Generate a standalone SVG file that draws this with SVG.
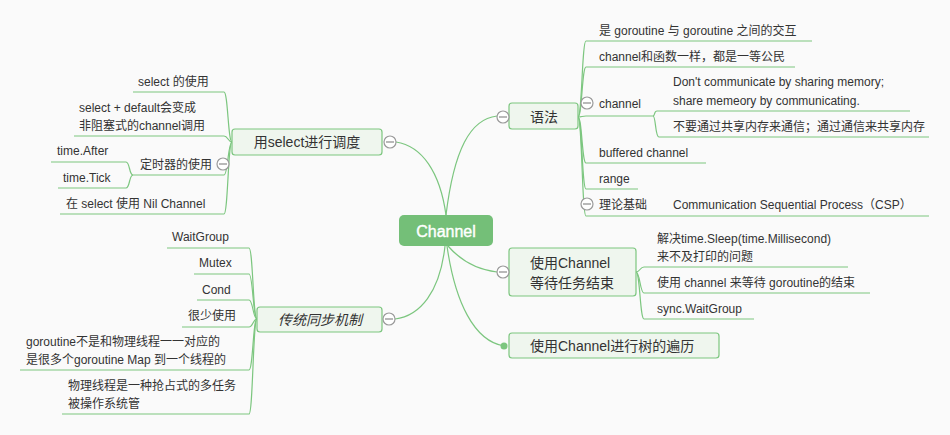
<svg xmlns="http://www.w3.org/2000/svg" width="950" height="435" viewBox="0 0 950 435">
<style>
text{font-family:"Liberation Sans","Noto Sans CJK SC",sans-serif;fill:#333;}
.leaf{font-size:12px;}
.topic{font-size:14px;}
.ln{fill:none;stroke:#7cc67f;stroke-width:1.2;}
.box{fill:#eff6ee;stroke:#7cc67f;stroke-width:1.2;}
.col circle{fill:#fff;stroke:#9a9a9a;stroke-width:1.2;}
.col line{stroke:#8a8a8a;stroke-width:1.2;}
</style>
<rect width="950" height="435" fill="#fafafa"/>
<g id="connectors">
<!-- main branches -->
<path class="ln" d="M446,215 C440,172 422,146 396,142"/>
<path class="ln" d="M446,215 C454,150 470,119 497,116"/>
<path class="ln" d="M445,246 C440,292 420,316 395,319"/>
<path class="ln" d="M448,246 C462,262 480,270 497,272"/>
<path class="ln" d="M447,246 C455,302 474,341 504,346"/>
<!-- 语法 children -->
<path class="ln" d="M578,117 C582,117 582,41 586,41 L812,41"/>
<path class="ln" d="M578,117 C582,117 582,67 586,67 L795,67"/>
<path class="ln" d="M578,117 C582,117 582,116 586,116 L653,116"/>
<path class="ln" d="M578,117 C582,117 582,163 586,163 L706,163"/>
<path class="ln" d="M578,117 C582,117 582,189 586,189 L638,189"/>
<path class="ln" d="M578,117 C582,117 582,216 586,216 L929,216"/>
<path class="ln" d="M653,116 C655,116 654,111 657,111 L910,111"/>
<path class="ln" d="M653,116 C656,116 655,137 659,137 L929,137"/>
<!-- 用select children -->
<path class="ln" d="M232,142 C228,142 228,92 224,92 L133,92"/>
<path class="ln" d="M232,142 C228,142 228,136 224,136 L74,136"/>
<path class="ln" d="M232,142 C228,142 228,175 224,175 L133,175"/>
<path class="ln" d="M232,142 C228,142 228,214 224,214 L60,214"/>
<path class="ln" d="M133,175 C129,175 130,162 126,162 L51,162"/>
<path class="ln" d="M133,175 C129,175 130,188 126,188 L58,188"/>
<!-- 传统同步机制 children -->
<path class="ln" d="M257,319 C253,319 253,248 249,248 L167,248"/>
<path class="ln" d="M257,319 C253,319 253,274 249,274 L194,274"/>
<path class="ln" d="M257,319 C253,319 253,300 249,300 L197,300"/>
<path class="ln" d="M257,319 C253,319 253,327 249,327 L182,327"/>
<path class="ln" d="M257,319 C253,319 253,370 249,370 L20,370"/>
<path class="ln" d="M257,319 C253,319 253,414 249,414 L62,414"/>
<!-- 使用Channel等待任务结束 children -->
<path class="ln" d="M636,272 C640,272 640,267 644,267 L848,267"/>
<path class="ln" d="M636,272 C640,272 640,293 644,293 L870,293"/>
<path class="ln" d="M636,272 C640,272 640,319 644,319 L754,319"/>
<circle cx="504" cy="346" r="3.5" fill="#7cc67f"/>
</g>
<g id="channel">
<rect x="399" y="215" width="94" height="31" rx="5" fill="#74bf78"/>
<text x="446" y="237" text-anchor="middle" style="font-size:16px;fill:#fff;stroke:#fff;stroke-width:0.4">Channel</text>
</g>
<g id="yufa">
<rect class="box" x="509" y="103" width="69" height="26" rx="3"/>
<text class="topic" x="544" y="122" text-anchor="middle">语法</text>
<g class="col"><circle cx="503" cy="117" r="6"/><line x1="499" y1="117" x2="507" y2="117"/></g>
</g>
<g id="yufa-1"><text class="leaf" x="599" y="35">是 goroutine 与 goroutine 之间的交互</text></g>
<g id="yufa-2"><text class="leaf" x="599" y="61">channel和函数一样，都是一等公民</text></g>
<g id="yufa-3"><text class="leaf" x="599" y="108">channel</text>
<g class="col"><circle cx="587" cy="103" r="6"/><line x1="583" y1="103" x2="591" y2="103"/></g></g>
<g id="yufa-3-1"><text class="leaf" x="673" y="86">Don't communicate by sharing memory;</text><text class="leaf" x="673" y="105">share memeory by communicating.</text></g>
<g id="yufa-3-2"><text class="leaf" x="673" y="131">不要通过共享内存来通信；通过通信来共享内存</text></g>
<g id="yufa-4"><text class="leaf" x="599" y="157">buffered channel</text></g>
<g id="yufa-5"><text class="leaf" x="599" y="183">range</text></g>
<g id="yufa-6"><text class="leaf" x="599" y="209">理论基础</text>
<g class="col"><circle cx="587" cy="204" r="6"/><line x1="583" y1="204" x2="591" y2="204"/></g></g>
<g id="yufa-6-1"><text class="leaf" x="673" y="209">Communication Sequential Process（CSP）</text></g>
<g id="wait">
<rect class="box" x="509" y="248" width="127" height="48" rx="3"/>
<text class="topic" x="530" y="268">使用Channel</text>
<text class="topic" x="530" y="288">等待任务结束</text>
<g class="col"><circle cx="503" cy="272" r="6"/><line x1="499" y1="272" x2="507" y2="272"/></g>
</g>
<g id="wait-1"><text class="leaf" x="657" y="243">解决time.Sleep(time.Millisecond)</text><text class="leaf" x="657" y="261">来不及打印的问题</text></g>
<g id="wait-2"><text class="leaf" x="657" y="287">使用 channel 来等待 goroutine的结束</text></g>
<g id="wait-3"><text class="leaf" x="657" y="313">sync.WaitGroup</text></g>
<g id="tree">
<rect class="box" x="509" y="333" width="210" height="25" rx="3"/>
<text class="topic" x="530" y="351">使用Channel进行树的遍历</text>
</g>
<g id="select">
<rect class="box" x="232" y="129" width="150" height="26" rx="3"/>
<text class="topic" x="307" y="147" text-anchor="middle">用select进行调度</text>
<g class="col"><circle cx="390" cy="142" r="6"/><line x1="386" y1="142" x2="394" y2="142"/></g>
</g>
<g id="select-1"><text class="leaf" x="138" y="86">select 的使用</text></g>
<g id="select-2"><text class="leaf" x="79" y="112">select + default会变成</text><text class="leaf" x="79" y="130">非阻塞式的channel调用</text></g>
<g id="select-3"><text class="leaf" x="140" y="169">定时器的使用</text>
<g class="col"><circle cx="223" cy="164" r="6"/><line x1="219" y1="164" x2="227" y2="164"/></g></g>
<g id="select-3-1"><text class="leaf" x="57" y="155">time.After</text></g>
<g id="select-3-2"><text class="leaf" x="63" y="182">time.Tick</text></g>
<g id="select-4"><text class="leaf" x="66" y="208">在 select 使用 Nil Channel</text></g>
<g id="sync">
<rect class="box" x="257" y="307" width="125" height="25" rx="3"/>
<text class="topic" x="320" y="325" text-anchor="middle" font-style="italic">传统同步机制</text>
<g class="col"><circle cx="389" cy="319" r="6"/><line x1="385" y1="319" x2="393" y2="319"/></g>
</g>
<g id="sync-1"><text class="leaf" x="172" y="241">WaitGroup</text></g>
<g id="sync-2"><text class="leaf" x="199" y="267">Mutex</text></g>
<g id="sync-3"><text class="leaf" x="202" y="294">Cond</text></g>
<g id="sync-4"><text class="leaf" x="188" y="320">很少使用</text></g>
<g id="sync-5"><text class="leaf" x="26" y="346">goroutine不是和物理线程一一对应的</text><text class="leaf" x="26" y="364">是很多个goroutine Map 到一个线程的</text></g>
<g id="sync-6"><text class="leaf" x="68" y="390">物理线程是一种抢占式的多任务</text><text class="leaf" x="68" y="408">被操作系统管</text></g>
</svg>
